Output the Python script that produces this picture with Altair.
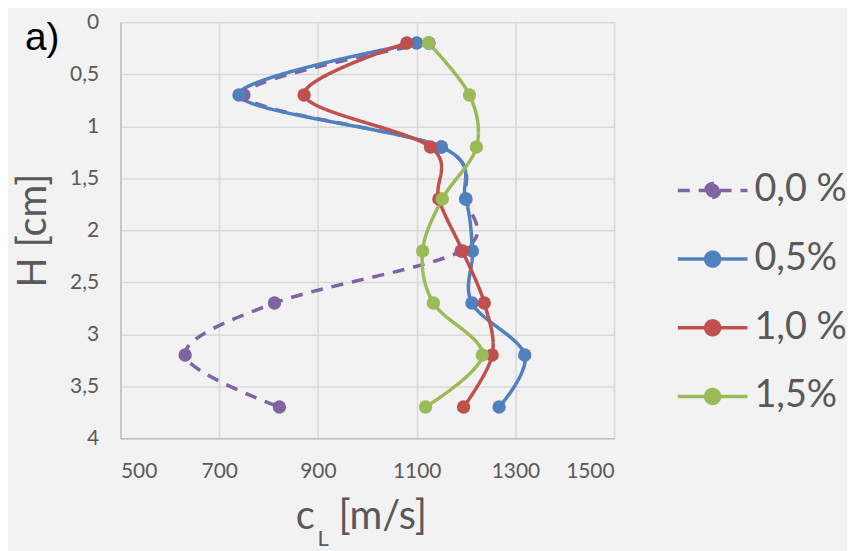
import altair as alt
import pandas as pd

# ---- data ----
H = [0.2, 0.7, 1.2, 1.7, 2.2, 2.7, 3.2, 3.7]
series_names = ["0,0 %", "0,5%", "1,0 %", "1,5%"]
c_00 = [1125, 750, 1150, 1200, 1190, 812, 631, 822]
c_05 = [1100, 740, 1150, 1199, 1213, 1212, 1319, 1267]
c_10 = [1080, 872, 1128, 1145, 1193, 1237, 1253, 1195]
c_15 = [1124, 1207, 1221, 1152, 1112, 1134, 1233, 1118]
colors = ["#8064A2", "#4F81BD", "#C0504D", "#9BBB59"]
dashes = [[12, 9], [1, 0], [1, 0], [1, 0]]
x_ticks = [500, 700, 900, 1100, 1300, 1500]
y_ticks = [0, 0.5, 1, 1.5, 2, 2.5, 3, 3.5, 4]

rows = []
for name, vals in zip(series_names, [c_00, c_05, c_10, c_15]):
    for h, v in zip(H, vals):
        rows.append({"series": name, "H": h, "cL": v})
df = pd.DataFrame(rows)

W, HT = 496, 418
FONT = "Lato"
GREY = "#595959"

x_enc = alt.X(
    "cL:Q",
    scale=alt.Scale(domain=[500, 1500], nice=False, zero=False),
    axis=alt.Axis(values=x_ticks, format="d", title=None, ticks=False,
                  labelPadding=22, labelFontSize=21, labelFont=FONT,
                  labelColor=GREY, gridColor="#D9D9D9", gridWidth=1.5,
                  domainColor="#BFBFBF", domainWidth=1.5),
)
y_enc = alt.Y(
    "H:Q",
    scale=alt.Scale(domain=[0, 4], reverse=True, nice=False, zero=False),
    axis=alt.Axis(values=y_ticks, format="~g",
                  labelExpr="replace(datum.label, '.', ',')",
                  ticks=False, labelPadding=22, labelFontSize=21,
                  labelFont=FONT, labelColor=GREY,
                  gridColor="#D9D9D9", gridWidth=1.5,
                  domainColor="#BFBFBF", domainWidth=1.5,
                  title="H [cm]", titleX=-75, titleY=HT / 2, titleAngle=270,
                  titleBaseline="alphabetic", titleAlign="center",
                  titleFontSize=40, titleFont=FONT, titleFontWeight="normal",
                  titleColor=GREY),
)

legend = alt.Legend(
    title=None, orient="none", legendX=558, legendY=132,
    symbolType="M-1,0L1,0M-0.2,0A0.2,0.2,0,1,1,0.2,0A0.2,0.2,0,1,1,-0.2,0Z",
    symbolSize=4900, symbolStrokeWidth=3.5,
    labelFontSize=38, labelFont=FONT, labelColor=GREY, labelOffset=5,
    rowPadding=13, labelLimit=300,
)
color_enc = alt.Color("series:N", scale=alt.Scale(domain=series_names, range=colors),
                      legend=legend)
dash_enc = alt.StrokeDash("series:N", scale=alt.Scale(domain=series_names, range=dashes),
                          legend=legend)

base = alt.Chart(df)
lines = base.mark_line(interpolate="cardinal", strokeWidth=3.5).encode(
    x=x_enc, y=y_enc, color=color_enc, strokeDash=dash_enc, order="H:Q"
)
points = base.mark_point(filled=True, size=180, opacity=1).encode(
    x=x_enc, y=y_enc, color=color_enc
)

a_label = alt.Chart(pd.DataFrame({"t": ["a)"]})).mark_text(
    font="Liberation Sans", fontSize=39, color="black", align="left", baseline="alphabetic"
).encode(x=alt.value(-96), y=alt.value(28), text="t:N")

xt_c = alt.Chart(pd.DataFrame({"t": ["c"]})).mark_text(
    font=FONT, fontSize=40, color=GREY, align="left", baseline="alphabetic"
).encode(x=alt.value(176), y=alt.value(509), text="t:N")
xt_L = alt.Chart(pd.DataFrame({"t": ["L"]})).mark_text(
    font=FONT, fontSize=22, color=GREY, align="left", baseline="alphabetic"
).encode(x=alt.value(198), y=alt.value(526), text="t:N")
xt_rest = alt.Chart(pd.DataFrame({"t": ["[m/s]"]})).mark_text(
    font=FONT, fontSize=40, color=GREY, align="left", baseline="alphabetic"
).encode(x=alt.value(219), y=alt.value(509), text="t:N")

chart = alt.layer(lines, points, a_label, xt_c, xt_L, xt_rest).properties(
    width=W, height=HT, background="#F2F2F2",
    padding={"left": 6, "top": 2, "right": 0, "bottom": 2},
).configure_view(stroke=None, fill="#F2F2F2")

chart.save("out.html", embed_options={"renderer": "svg", "actions": False})
